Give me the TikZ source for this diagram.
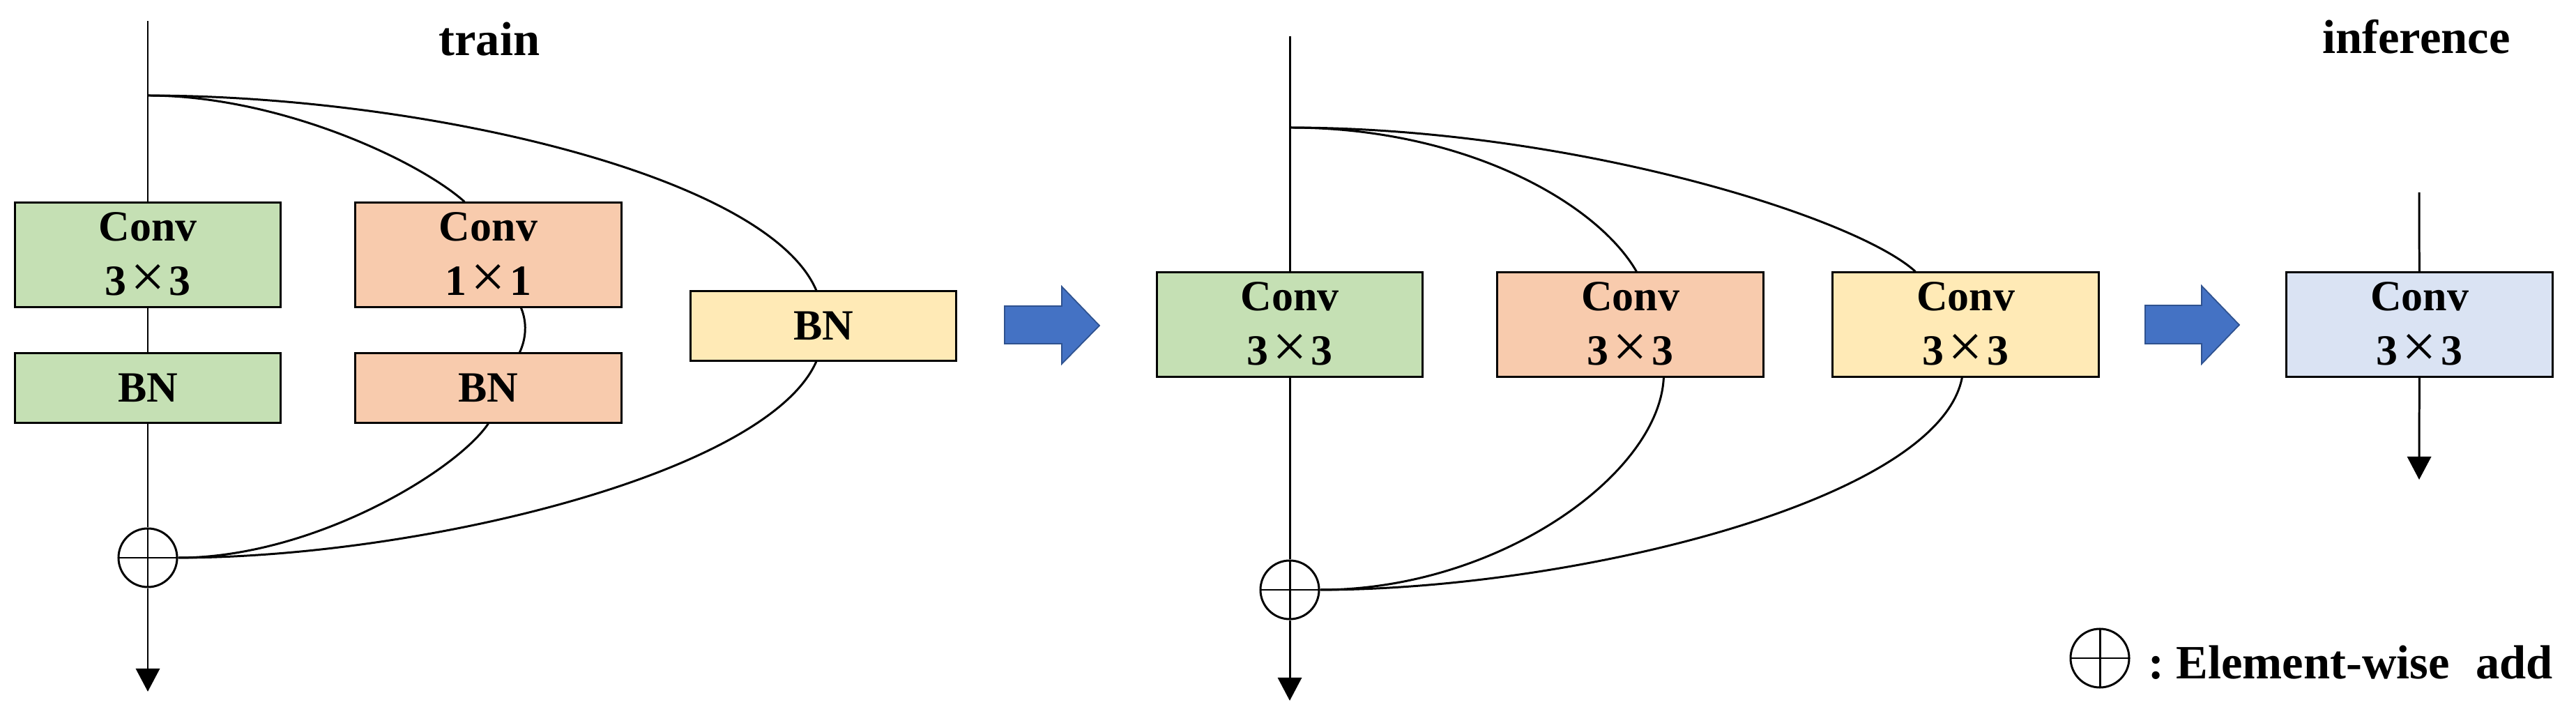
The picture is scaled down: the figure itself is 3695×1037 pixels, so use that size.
\documentclass[tikz,border=0pt]{standalone}
\usepackage{fontspec}
\setmainfont{Liberation Serif}
\usetikzlibrary{arrows.meta,calc}
\definecolor{cgreen}{HTML}{C5E0B4}
\definecolor{corange}{HTML}{F8CBAD}
\definecolor{cyellow}{HTML}{FFEAB6}
\definecolor{clblue}{HTML}{DAE3F3}
\definecolor{cblue}{HTML}{4472C4}
\definecolor{cbluedark}{HTML}{2F528F}
\newcommand\mybxfont{\fontsize{17.6}{22.2}\selectfont\bfseries}
\newcommand\mytitlefont{\fontsize{19.5}{22}\selectfont\bfseries}
\newcommand\mytms{\makebox[1em]{\mdseries\fontsize{25}{22}\selectfont\raisebox{-0.04em}{×}}}
\begin{document}
\begin{tikzpicture}[x=0.01cm,y=-0.01cm, line width=0.85pt,
  box/.style={draw, line width=0.85pt, inner sep=0pt, minimum width=3.81cm, font=\mybxfont, align=center},
  tallbox/.style={box, minimum height=1.49cm},
  shortbox/.style={box, minimum height=0.99cm},
  addnode/.style={circle, draw, line width=0.85pt, minimum size=0.84cm, inner sep=0pt,
    path picture={\draw (path picture bounding box.west) -- (path picture bounding box.east);
                  \draw (path picture bounding box.north) -- (path picture bounding box.south);}},
  outarrow/.style={-{Triangle[width=9.7pt,length=9.4pt]}},
  blockarrow/.style={fill=cblue, draw=cbluedark, line width=0.5pt},
  title/.style={font=\mytitlefont, inner sep=0pt}]
\useasboundingbox (0,0) rectangle (3695,1037);

% ---------- train ----------
\node[title] (train) at (702,56) {train};
\coordinate (in1) at (212,30);
\coordinate (br1) at (212,137);
\node[tallbox, fill=cgreen] (gc1) at (212,365.5) {Conv\\3\mytms3};
\node[shortbox, fill=cgreen] (gb1) at (212,556.5) {BN};
\node[tallbox, fill=corange] (oc1) at (700.5,365.5) {Conv\\1\mytms1};
\node[shortbox, fill=corange] (ob1) at (700.5,556.5) {BN};
\node[shortbox, fill=cyellow] (yb1) at (1181,467.5) {BN};
\node[addnode] (add1) at (212,800) {};
\coordinate (out1) at (212,992);

\draw (in1) -- (gc1);
\draw (gc1) -- (gb1);
\draw (gb1) -- (add1);
\draw[outarrow] (add1) -- (out1);
\draw (br1) .. controls (400,137) and (600,230) .. ($(oc1.north west)+(158,0)$);
\draw (br1) .. controls (600,137) and (1100,250) .. ($(yb1.north west)+(182,0)$);
\draw ($(oc1.south west)+(239,0)$) .. controls (756,462) and (755,485) .. ($(ob1.north west)+(237,0)$);
\draw (ob1.south) .. controls (655,675) and (450,800) .. (add1.east);
\draw ($(yb1.south west)+(182,0)$) .. controls (1100,680) and (600,800) .. (add1.east);

% block arrow 1
\draw[blockarrow] (1441,439) -- (1523,439) -- (1523,411) -- (1577,467) -- (1523,522) -- (1523,493) -- (1441,493) -- cycle;

% ---------- middle ----------
\coordinate (in2) at (1850,52);
\coordinate (br2) at (1850,183);
\node[tallbox, fill=cgreen] (mg) at (1850,465.5) {Conv\\3\mytms3};
\node[tallbox, fill=corange] (mo) at (2338.5,465.5) {Conv\\3\mytms3};
\node[tallbox, fill=cyellow] (my) at (2819.5,465.5) {Conv\\3\mytms3};
\node[addnode] (add2) at (1850,846) {};
\coordinate (out2) at (1850,1005);

\draw (in2) -- (mg);
\draw (mg) -- (add2);
\draw[outarrow] (add2) -- (out2);
\draw (br2) .. controls (2100,183) and (2290,290) .. ($(mo.north west)+(201,0)$);
\draw (br2) .. controls (2250,183) and (2660,310) .. ($(my.north west)+(120,0)$);
\draw ($(mo.south west)+(240,0)$) .. controls (2380,680) and (2150,846) .. (add2.east);
\draw ($(my.south west)+(187,0)$) .. controls (2780,720) and (2250,846) .. (add2.east);

% block arrow 2
\draw[blockarrow] (3077,438) -- (3158,438) -- (3158,410) -- (3212,466) -- (3158,522) -- (3158,493) -- (3077,493) -- cycle;

% ---------- inference ----------
\node[title] (inference) at (3466,53) {inference};
\coordinate (in3) at (3470,276);
\node[tallbox, fill=clblue] (bc) at (3470.5,465.5) {Conv\\3\mytms3};
\coordinate (out3) at (3470,688);
\draw (in3) -- (bc);
\draw[outarrow] (bc) -- (out3);

% ---------- legend ----------
\node[addnode] (leg) at (3012,944) {};
\node[font=\mytitlefont, anchor=west, inner sep=0pt] (legtext) at (3080,950) {:\ Element-wise\hspace{0.55em}add};
\end{tikzpicture}
\end{document}
